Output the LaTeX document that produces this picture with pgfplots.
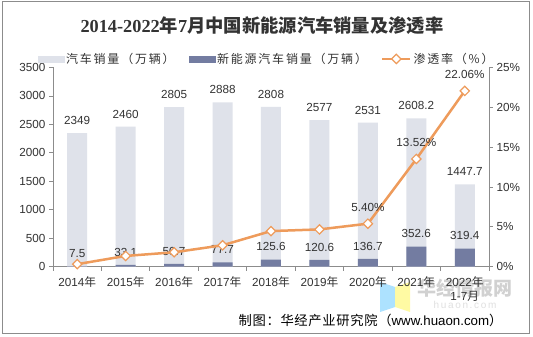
\documentclass[border=0pt]{standalone}
\usepackage{fontspec}
\setmainfont{Liberation Sans}
\newfontfamily\cjk{Noto Sans CJK SC}
\newfontfamily\cjkleg{Noto Sans CJK SC}[LetterSpace=15]
\newfontfamily\cjksrc{Noto Sans CJK SC}[LetterSpace=5]
\newfontfamily\sernum{Liberation Serif}
\usepackage{pgfplots}
\usepackage{pgfplotstable}
\pgfplotsset{compat=1.18}
\definecolor{totbar}{HTML}{DFE2EA}
\definecolor{nevbar}{HTML}{737CA1}
\definecolor{rate}{HTML}{EE9B5B}
\definecolor{txt}{HTML}{333333}
\definecolor{axgray}{HTML}{8C8C8C}

\pgfplotstableread{
x total nev rate
0 2349 7.5 0.32
1 2460 33.1 1.35
2 2805 50.7 1.81
3 2888 77.7 2.69
4 2808 125.6 4.47
5 2577 120.6 4.68
6 2531 136.7 5.40
7 2608.2 352.6 13.52
8 1447.7 319.4 22.06
}\data

\newcommand{\lbl}{\fontsize{11.7bp}{14bp}\selectfont}
\newcommand{\leg}{\fontsize{12bp}{14bp}\selectfont}

\begin{document}
\begin{tikzpicture}
\useasboundingbox (0,0) rectangle (533bp,337bp);
\fill[white] (0,0) rectangle (533bp,337bp);
\draw[axgray, line width=0.8bp] (2.3bp,4bp) rectangle (529.7bp,335.3bp);
% title
\node[anchor=center, text=txt] at (262bp,311bp) {\fontsize{18.3bp}{20bp}\selectfont{\sernum\bfseries 2014-2022}{\cjk\bfseries 年}{\sernum\bfseries 7}{\cjk\bfseries 月中国新能源汽车销量及渗透率}};
% watermark
\fill[blue!35!cyan!40!white, opacity=0.8] (380bp,55bp) -- (395bp,50bp) -- (395bp,30bp) -- (380bp,25bp) -- cycle;
\fill[yellow!40!white, opacity=0.9] (395bp,50bp) -- (410bp,55bp) -- (410bp,25bp) -- (395bp,30bp) -- cycle;
\node[text=black!18, anchor=center] at (465bp,49bp) {\fontsize{19bp}{20bp}\selectfont\cjk\bfseries 华经情报网};
\node[text=black!12, anchor=center] at (465bp,32bp) {\fontsize{10bp}{12bp}\selectfont h\,u\,a\,o\,n\,.\,c\,o\,m};
% source
\node[anchor=east, text=black] at (506bp,17bp) {\fontsize{13.3bp}{15bp}\selectfont{\cjksrc 制图：华经产业研究院（}www.huaon.com{\cjk ）}};

\begin{axis}[
  at={(53bp,70.3bp)}, anchor=south west,
  scale only axis, width=436bp, height=199.2bp,
  xmin=-0.5, xmax=8.5, ymin=0, ymax=3500,
  ytick={0,500,...,3500},
  xtick={0,...,8},
  xticklabels={2014{\cjk 年},2015{\cjk 年},2016{\cjk 年},2017{\cjk 年},2018{\cjk 年},2019{\cjk 年},2020{\cjk 年},2021{\cjk 年},{2022{\cjk 年}\\1-7{\cjk 月}}},
  xticklabel style={align=center, yshift=-2bp},
  minor xtick={-0.5,0.5,...,8.5},
  major x tick style={draw=none},
  axis x line*=bottom, axis y line*=left,
  axis line style={-, axgray, line width=0.8bp},
  tick style={axgray, line width=0.8bp},
  tick align=outside, major tick length=4bp, minor tick length=4bp,
  ticklabel style={font=\lbl, text=txt},
  /pgf/number format/assume math mode=true,
  /pgf/number format/1000 sep={},
  clip=false,
]
\addplot[ybar, bar width=20bp, bar shift=0pt, fill=totbar, draw=none,
  nodes near coords, nodes near coords style={anchor=south, yshift=5bp, font=\lbl, text=txt, /pgf/number format/precision=1, /pgf/number format/1000 sep={}}]
  table[x=x, y=total]{\data};
\addplot[ybar, bar width=20bp, bar shift=0pt, fill=nevbar, draw=none,
  nodes near coords, nodes near coords style={anchor=south, yshift=5bp, font=\lbl, text=txt, /pgf/number format/precision=1, /pgf/number format/1000 sep={}}]
  table[x=x, y=nev]{\data};
\end{axis}

\begin{axis}[
  at={(53bp,70.3bp)}, anchor=south west,
  scale only axis, width=436bp, height=199.2bp,
  xmin=-0.5, xmax=8.5, ymin=0, ymax=25,
  ytick={0,5,...,25},
  yticklabel={\pgfmathprintnumber{\tick}\%},
  hide x axis,
  axis y line*=right,
  axis line style={-, axgray, line width=0.8bp},
  tick style={axgray, line width=0.8bp},
  tick align=outside, major tick length=4bp,
  ticklabel style={font=\lbl, text=txt},
  /pgf/number format/assume math mode=true,
  clip=false,
  legend columns=3,
  legend style={draw=none, fill=none, at={(0.49,1.043)}, anchor=center,
    font=\leg\cjkleg, text=txt,
    /tikz/every even column/.append style={column sep=12bp}},
]
\addlegendimage{legend image code/.code={\fill[totbar] (0bp,-3bp) rectangle (26bp,3bp);}}
\addlegendentry{汽车销量（万辆）}
\addlegendimage{legend image code/.code={\fill[nevbar] (0bp,-3bp) rectangle (26bp,3bp);}}
\addlegendentry{新能源汽车销量（万辆）}
\addplot[rate, line width=2.5bp, mark=square*, mark size=3.3bp,
  mark options={fill=white, draw=rate, line width=1.2bp, rotate=45, solid},
  legend image code/.code={\draw[rate, line width=2.5bp] (0bp,0bp)--(28bp,0bp);
    \draw[fill=white, draw=rate, line width=1.2bp] (14bp,-4.7bp)--(18.7bp,0bp)--(14bp,4.7bp)--(9.3bp,0bp)--cycle;}]
  table[x=x, y=rate]{\data};
\addlegendentry{渗透率（\%）}
\addplot[draw=none, mark=none, forget plot, point meta=y,
  nodes near coords={\pgfmathprintnumber[fixed,fixed zerofill,precision=2]{\pgfplotspointmeta}\%},
  nodes near coords style={anchor=south, yshift=9bp, font=\lbl, text=txt}]
  coordinates {(6,5.40) (7,13.52) (8,22.06)};
\end{axis}
\end{tikzpicture}
\end{document}
